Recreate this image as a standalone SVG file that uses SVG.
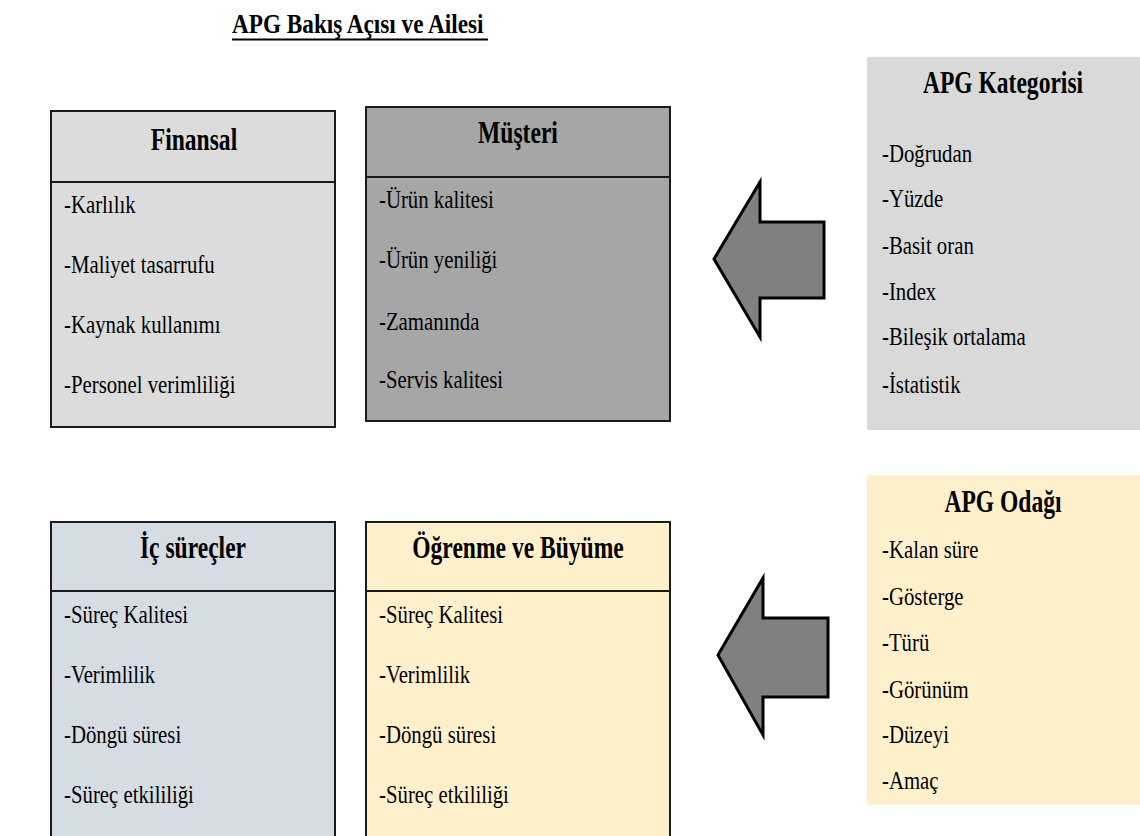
<svg xmlns="http://www.w3.org/2000/svg" width="1140" height="836" viewBox="0 0 1140 836">
  <style>
    text { font-family: "Liberation Serif", "Times New Roman", serif; fill: #000; }
    .title { font-size: 27px; font-weight: bold; }
    .head { font-size: 31px; font-weight: bold; text-anchor: middle; }
    .item { font-size: 26px; }
    .box { stroke: #1a1a1a; stroke-width: 2; }
    .rule { stroke: #1a1a1a; stroke-width: 2; }
    .arrow { fill: #808080; stroke: #000; stroke-width: 3; stroke-linejoin: miter; }
  </style>

  <!-- heading -->
  <g id="title">
    <text class="title" transform="translate(232 33) scale(0.86 1)">APG Bakış Açısı ve Ailesi</text>
    <line x1="232" y1="39.5" x2="488" y2="39.5" stroke="#000" stroke-width="2"/>
  </g>

  <!-- perspective: financial -->
  <g id="finansal">
    <rect class="box" x="51" y="111" width="284" height="316" fill="#dcdcdc"/>
    <line class="rule" x1="51" y1="182" x2="335" y2="182"/>
    <text class="head" transform="translate(194 150) scale(0.76 1)">Finansal</text>
    <text class="item" transform="translate(64 213) scale(0.8 1)">-Karlılık</text>
    <text class="item" transform="translate(64 273) scale(0.8 1)">-Maliyet tasarrufu</text>
    <text class="item" transform="translate(64 333) scale(0.8 1)">-Kaynak kullanımı</text>
    <text class="item" transform="translate(64 393) scale(0.8 1)">-Personel verimliliği</text>
  </g>

  <!-- perspective: customer -->
  <g id="musteri">
    <rect class="box" x="366" y="107" width="304" height="314" fill="#a6a6a6"/>
    <line class="rule" x1="366" y1="177" x2="670" y2="177"/>
    <text class="head" transform="translate(518 143) scale(0.76 1)">Müşteri</text>
    <text class="item" transform="translate(379 208) scale(0.8 1)">-Ürün kalitesi</text>
    <text class="item" transform="translate(379 268) scale(0.8 1)">-Ürün yeniliği</text>
    <text class="item" transform="translate(379 330) scale(0.8 1)">-Zamanında</text>
    <text class="item" transform="translate(379 388) scale(0.8 1)">-Servis kalitesi</text>
  </g>

  <!-- perspective: internal processes -->
  <g id="ic-surecler">
    <rect class="box" x="51" y="522" width="284" height="320" fill="#d6dce4"/>
    <line class="rule" x1="51" y1="591" x2="335" y2="591"/>
    <text class="head" transform="translate(193 558) scale(0.76 1)">İç süreçler</text>
    <text class="item" transform="translate(64 623) scale(0.8 1)">-Süreç Kalitesi</text>
    <text class="item" transform="translate(64 683) scale(0.8 1)">-Verimlilik</text>
    <text class="item" transform="translate(64 743) scale(0.8 1)">-Döngü süresi</text>
    <text class="item" transform="translate(64 803) scale(0.8 1)">-Süreç etkililiği</text>
  </g>

  <!-- perspective: learning and growth -->
  <g id="ogrenme">
    <rect class="box" x="366" y="522" width="304" height="320" fill="#fff0cc"/>
    <line class="rule" x1="366" y1="591" x2="670" y2="591"/>
    <text class="head" transform="translate(518 558) scale(0.76 1)">Öğrenme ve Büyüme</text>
    <text class="item" transform="translate(379 623) scale(0.8 1)">-Süreç Kalitesi</text>
    <text class="item" transform="translate(379 683) scale(0.8 1)">-Verimlilik</text>
    <text class="item" transform="translate(379 743) scale(0.8 1)">-Döngü süresi</text>
    <text class="item" transform="translate(379 803) scale(0.8 1)">-Süreç etkililiği</text>
  </g>

  <!-- category panel -->
  <g id="apg-kategorisi">
    <rect x="867" y="57" width="273" height="373" fill="#d9d9d9"/>
    <text class="head" transform="translate(1003 93) scale(0.76 1)">APG Kategorisi</text>
    <text class="item" transform="translate(882 162) scale(0.8 1)">-Doğrudan</text>
    <text class="item" transform="translate(882 207) scale(0.8 1)">-Yüzde</text>
    <text class="item" transform="translate(882 254) scale(0.8 1)">-Basit oran</text>
    <text class="item" transform="translate(882 300) scale(0.8 1)">-Index</text>
    <text class="item" transform="translate(882 345) scale(0.8 1)">-Bileşik ortalama</text>
    <text class="item" transform="translate(882 393) scale(0.8 1)">-İstatistik</text>
  </g>

  <!-- focus panel -->
  <g id="apg-odagi">
    <rect x="867" y="475" width="273" height="330" fill="#fff0cc"/>
    <text class="head" transform="translate(1003 512) scale(0.76 1)">APG Odağı</text>
    <text class="item" transform="translate(882 558) scale(0.8 1)">-Kalan süre</text>
    <text class="item" transform="translate(882 605) scale(0.8 1)">-Gösterge</text>
    <text class="item" transform="translate(882 651) scale(0.8 1)">-Türü</text>
    <text class="item" transform="translate(882 698) scale(0.8 1)">-Görünüm</text>
    <text class="item" transform="translate(882 743) scale(0.8 1)">-Düzeyi</text>
    <text class="item" transform="translate(882 789) scale(0.8 1)">-Amaç</text>
  </g>

  <!-- block arrows pointing left -->
  <g id="connectors">
    <polygon class="arrow" points="714,259 760,182 760,222 824,222 824,298 760,298 760,337"/>
    <polygon class="arrow" points="718,655 763,578 763,618 828,618 828,697 763,697 763,735"/>
  </g>
</svg>
